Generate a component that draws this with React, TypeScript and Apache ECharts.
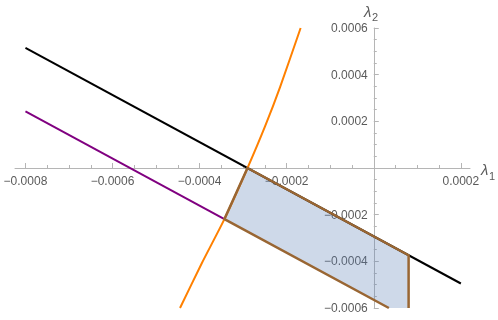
import React, { useEffect, useRef } from 'react';
import * as echarts from 'echarts';

// Axis ranges
const xMin = -0.000824;
const xMax = 0.000221;
const yMin = -0.0006;
const yMax = 0.0006;

// Ticks
const xMajorTicks = [-0.0008, -0.0006, -0.0004, -0.0002, 0, 0.0002];
const xLabelValues = [-0.0008, -0.0006, -0.0004, -0.0002, 0.0002];
const xMinorTicks = [-0.00075, -0.0007, -0.00065, -0.00055, -0.0005, -0.00045, -0.00035, -0.0003, -0.00025, -0.00015, -0.0001, -0.00005, 0.00005, 0.0001, 0.00015];
const yMajorTicks = [-0.0006, -0.0004, -0.0002, 0, 0.0002, 0.0004, 0.0006];
const yLabelValues = [-0.0006, -0.0004, -0.0002, 0.0002, 0.0004, 0.0006];
const yMinorTicks = [-0.00055, -0.0005, -0.00045, -0.00035, -0.0003, -0.00025, -0.00015, -0.0001, -0.00005, 0.00005, 0.0001, 0.00015, 0.00025, 0.0003, 0.00035, 0.00045, 0.0005, 0.00055];

// Curves (x, y)
const blackLine = [[-0.0008, 0.000515], [0.0002, -0.000495]];
const purpleLine = [[-0.0008, 0.000243], [-0.000343, -0.000219]];
const orangeCurve = [
  [-0.000445, -0.0006],
  [-0.000395, -0.000408],
  [-0.000343, -0.000219],
  [-0.00029, 0],
  [-0.00025, 0.000177],
  [-0.000215, 0.000348],
  [-0.000168, 0.0006],
];
// Region boundary: D -> E -> A -> B -> C (bottom edge is the plot boundary)
const regionBoundary = [
  [0.0000347, -0.0006],
  [-0.000343, -0.000219],
  [-0.00029, 0],
  [0.00008, -0.000374],
  [0.00008, -0.0006],
];

const labelColor = '#5a5a5a';
const axisColor = '#b5b5b5';
const fontFamily = '"Liberation Sans", Arial, sans-serif';

// Grid geometry (pixels)
const gridLeft = 15;
const gridTop = 28;
const gridWidth = 455;
const gridHeight = 280;

function fmt(v: number) {
  const s = Math.abs(v).toFixed(4);
  return v < 0 ? '\u2212' + s : s;
}

export default function App() {
  const ref = useRef<HTMLDivElement>(null);
  useEffect(() => {
    if (!ref.current) return;
    const chart = echarts.init(ref.current, undefined, { renderer: 'svg' });
    // offsets that move the axes onto the zero lines
    const xZeroPx = gridLeft + ((0 - xMin) / (xMax - xMin)) * gridWidth;
    const yZeroPx = gridTop + ((yMax - 0) / (yMax - yMin)) * gridHeight;
    const xAxisOffset = -(gridTop + gridHeight - yZeroPx);
    const yAxisOffset = -(xZeroPx - gridLeft);
    const baseX = {
      type: 'value' as const,
      min: xMin,
      max: xMax,
      position: 'bottom' as const,
      offset: xAxisOffset,
      splitLine: { show: false },
    };
    const baseY = {
      type: 'value' as const,
      min: yMin,
      max: yMax,
      position: 'left' as const,
      offset: yAxisOffset,
      splitLine: { show: false },
    };
    chart.setOption({
      animation: false,
      grid: { left: gridLeft, top: gridTop, width: gridWidth, height: gridHeight, containLabel: false, outerBoundsMode: 'none' },
      xAxis: [
        {
          ...baseX,
          axisLine: { show: true, onZero: false, lineStyle: { color: axisColor, width: 1 } },
          axisTick: { show: true, inside: true, length: 5, customValues: xMajorTicks, lineStyle: { color: axisColor } },
          axisLabel: {
            show: true,
            customValues: xLabelValues,
            formatter: (v: number) => fmt(v),
            color: labelColor,
            fontSize: 12,
            fontFamily,
            margin: 7,
          },
        },
        {
          ...baseX,
          axisLine: { show: false, onZero: false },
          axisTick: { show: true, inside: true, length: 3, customValues: xMinorTicks, lineStyle: { color: axisColor } },
          axisLabel: { show: false },
        },
      ],
      yAxis: [
        {
          ...baseY,
          axisLine: { show: true, onZero: false, lineStyle: { color: axisColor, width: 1 } },
          axisTick: { show: true, inside: true, length: 5, customValues: yMajorTicks, lineStyle: { color: axisColor } },
          axisLabel: {
            show: true,
            customValues: yLabelValues,
            formatter: (v: number) => fmt(v),
            color: labelColor,
            fontSize: 12,
            fontFamily,
            margin: 6,
          },
        },
        {
          ...baseY,
          axisLine: { show: false, onZero: false },
          axisTick: { show: true, inside: true, length: 3, customValues: yMinorTicks, lineStyle: { color: axisColor } },
          axisLabel: { show: false },
        },
      ],
      graphic: [
        { type: 'text', x: 481, y: 162, style: { text: 'λ', font: 'italic 15px ' + fontFamily, fill: labelColor } },
        { type: 'text', x: 489, y: 170, style: { text: '1', font: '11px ' + fontFamily, fill: labelColor } },
        { type: 'text', x: 364, y: 4, style: { text: 'λ', font: 'italic 15px ' + fontFamily, fill: labelColor } },
        { type: 'text', x: 372, y: 11, style: { text: '2', font: '11px ' + fontFamily, fill: labelColor } },
      ],
      series: [
        {
          type: 'custom',
          xAxisIndex: 0,
          yAxisIndex: 0,
          data: [0],
          silent: true,
          z: 1,
          renderItem: (_params: any, api: any) => {
            const pts = regionBoundary.map((p) => api.coord(p));
            return {
              type: 'polygon',
              shape: { points: pts },
              style: { fill: 'rgba(94,129,181,0.3)', stroke: 'none' },
            };
          },
        },
        {
          type: 'line',
          data: blackLine,
          symbol: 'none',
          z: 2,
          lineStyle: { color: '#000000', width: 2 },
        },
        {
          type: 'line',
          data: purpleLine,
          symbol: 'none',
          z: 2,
          lineStyle: { color: '#800080', width: 2 },
        },
        {
          type: 'line',
          data: orangeCurve,
          symbol: 'none',
          smooth: 0.2,
          z: 3,
          lineStyle: { color: '#ff8000', width: 2 },
        },
        {
          type: 'line',
          data: regionBoundary,
          symbol: 'none',
          z: 4,
          lineStyle: { color: '#996633', width: 2.5, join: 'round' },
        },
      ],
    });
    return () => chart.dispose();
  }, []);
  return <div ref={ref} style={{ position: 'fixed', left: 0, top: 0, width: 498, height: 320 }} />;
}
